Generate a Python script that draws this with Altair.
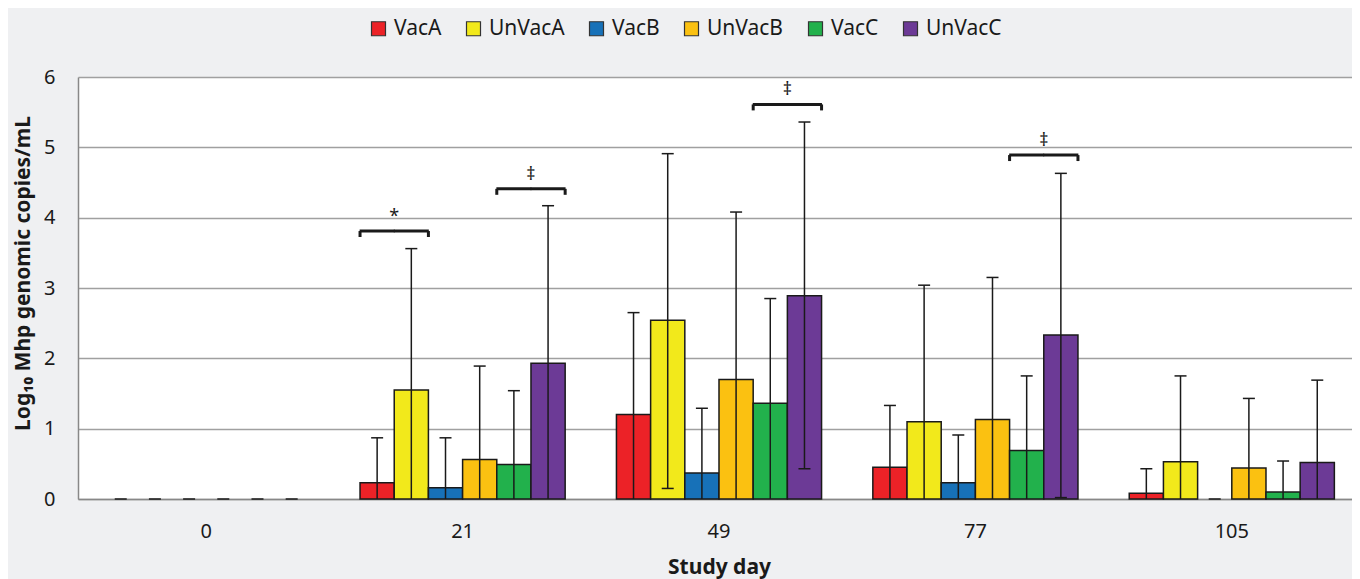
import altair as alt
import pandas as pd

days = ["0", "21", "49", "77", "105"]
series = ["VacA", "UnVacA", "VacB", "UnVacB", "VacC", "UnVacC"]
colors = ["#ec2227", "#f2e91b", "#1771b8", "#fbc111", "#22b14c", "#6c3a96"]

# means (Log10 genomic copies/mL) per study day
vac_a = [0.0, 0.23, 1.20, 0.45, 0.08]
unvac_a = [0.0, 1.55, 2.54, 1.10, 0.53]
vac_b = [0.0, 0.16, 0.37, 0.23, 0.0]
unvac_b = [0.0, 0.56, 1.70, 1.13, 0.44]
vac_c = [0.0, 0.49, 1.36, 0.69, 0.10]
unvac_c = [0.0, 1.93, 2.89, 2.33, 0.52]

# upper error bar ends
vac_a_hi = [0.0, 0.87, 2.65, 1.33, 0.43]
unvac_a_hi = [0.0, 3.56, 4.91, 3.04, 1.75]
vac_b_hi = [0.0, 0.87, 1.29, 0.91, 0.0]
unvac_b_hi = [0.0, 1.89, 4.08, 3.15, 1.43]
vac_c_hi = [0.0, 1.54, 2.85, 1.75, 0.54]
unvac_c_hi = [0.0, 4.17, 5.36, 4.63, 1.69]

# lower error bar ends (0 = below axis, no cap shown)
vac_a_lo = [0.0, 0.0, 0.0, 0.0, 0.0]
unvac_a_lo = [0.0, 0.0, 0.15, 0.0, 0.0]
vac_b_lo = [0.0, 0.0, 0.0, 0.0, 0.0]
unvac_b_lo = [0.0, 0.0, 0.0, 0.0, 0.0]
vac_c_lo = [0.0, 0.0, 0.0, 0.0, 0.0]
unvac_c_lo = [0.0, 0.0, 0.43, 0.02, 0.0]

# significance brackets
br_day = ["21", "21", "49", "77"]
br_left = ["VacA", "VacC", "VacC", "VacC"]
br_right = ["UnVacA", "UnVacC", "UnVacC", "UnVacC"]
br_level = [3.81, 4.41, 5.61, 4.89]
br_label = ["*", "‡", "‡", "‡"]

means = [vac_a, unvac_a, vac_b, unvac_b, vac_c, unvac_c]
his = [vac_a_hi, unvac_a_hi, vac_b_hi, unvac_b_hi, vac_c_hi, unvac_c_hi]
los = [vac_a_lo, unvac_a_lo, vac_b_lo, unvac_b_lo, vac_c_lo, unvac_c_lo]

rows = []
for s, m, h, l in zip(series, means, his, los):
    for i, d in enumerate(days):
        rows.append({"day": d, "series": s, "mean": m[i], "hi": h[i], "lo": l[i]})
df = pd.DataFrame(rows)

# bar edges: edge k is the left edge of series k (edge 6 = right edge of last)
edges = ["e%d" % k for k in range(len(series) + 1)]

brows = []
for d, a, b, lv, lab in zip(br_day, br_left, br_right, br_level, br_label):
    ia, ib = series.index(a), series.index(b)
    brows.append({"day": d, "left": a, "right": b, "level": lv, "low": lv - 0.085,
                  "label": lab, "eL": edges[ia], "eR": edges[ib + 1], "eM": edges[ia + 1]})
dfb = pd.DataFrame(brows)
dft = pd.concat([dfb.assign(series=dfb["left"]), dfb.assign(series=dfb["right"])])
dfe = pd.concat([dfb.assign(edge=dfb["eL"]), dfb.assign(edge=dfb["eR"])])

FONT = "Noto Sans"
INK = "#1a1a1a"

xscale = alt.Scale(domain=days, range=[0, 1282], paddingInner=0.2, paddingOuter=0.1)
xo_scale = alt.Scale(domain=series, paddingInner=0, paddingOuter=0)
edge_scale = alt.Scale(type="point", domain=edges, padding=0)
yscale = alt.Scale(domain=[0, 6], nice=False)

x_axis = alt.Axis(title="Study day", labelAngle=0, ticks=False,
                  labelFontSize=20, labelPadding=22, labelColor=INK,
                  titleFontSize=21, titleFontWeight="bold", titleColor=INK,
                  titleBaseline="alphabetic", titleY=74,
                  domainColor="#888", domainWidth=1.5)
y_axis = alt.Axis(title="Log₁₀ Mhp genomic copies/mL", values=[0, 1, 2, 3, 4, 5, 6],
                  ticks=False, labelFontSize=20, labelPadding=23, labelColor=INK,
                  titleFontSize=21, titleFontWeight="bold", titleColor=INK,
                  titleX=-55, titleY=196, titleBaseline="middle",
                  domainColor="#888", domainWidth=1.5,
                  grid=True, gridColor="#a0a0a0", gridWidth=1.5)


def X():
    return alt.X("day:N", sort=days, scale=xscale, axis=x_axis)


def Y(field):
    return alt.Y(field, scale=yscale, axis=y_axis)


xo = alt.XOffset("series:N", sort=series, scale=xo_scale)

bars = alt.Chart(df).mark_bar(stroke=INK, strokeWidth=1.5).encode(
    x=X(), xOffset=xo, y=Y("mean:Q"),
    color=alt.Color("series:N", sort=series,
                    scale=alt.Scale(domain=series, range=colors),
                    legend=alt.Legend(title=None, orient="none", direction="horizontal",
                                      legendX=290, legendY=-59,
                                      symbolType="square", symbolSize=196,
                                      symbolStrokeColor="#333", symbolStrokeWidth=1.2,
                                      labelFontSize=21, labelColor=INK, labelOffset=5,
                                      columnPadding=21)),
).transform_filter("datum.mean > 0")

err = alt.Chart(df).mark_rule(color=INK, strokeWidth=1.5).encode(
    x=X(), xOffset=xo, y=Y("lo:Q"), y2="hi:Q",
)

cap_hi = alt.Chart(df).mark_tick(color=INK, size=12, thickness=1.5, opacity=1).encode(
    x=X(), xOffset=xo, y=Y("hi:Q"),
)

cap_lo = alt.Chart(df).mark_tick(color=INK, size=12, thickness=1.5, opacity=1).encode(
    x=X(), xOffset=xo, y=Y("lo:Q"),
).transform_filter("datum.lo > 0")

br_line = alt.Chart(dft).mark_tick(color=INK, size=35, thickness=3, opacity=1).encode(
    x=X(), xOffset=xo, y=Y("level:Q"),
)

br_ends = alt.Chart(dfe).mark_rule(color=INK, strokeWidth=3).encode(
    x=X(),
    xOffset=alt.XOffset("edge:N", sort=edges, scale=edge_scale),
    y=Y("level:Q"), y2="low:Q",
)

br_txt = alt.Chart(dfb).mark_text(fontSize=18, color=INK, baseline="middle", dy=-14,
                                  font=FONT).encode(
    x=X(),
    xOffset=alt.XOffset("eM:N", sort=edges, scale=edge_scale),
    y=Y("level:Q"),
    text="label:N",
)

chart = alt.layer(bars, err, cap_hi, cap_lo, br_line, br_ends, br_txt).resolve_scale(
    xOffset="independent"
).properties(
    width=1274,
    height=422,
    autosize=alt.AutoSizeParams(type="none"),
    padding={"left": 70, "top": 69, "right": 0, "bottom": 80},
    background="#eff0f2",
).configure(font=FONT).configure_view(fill="white", strokeWidth=0)

chart.save("out.html", embed_options={"renderer": "svg", "actions": False})
